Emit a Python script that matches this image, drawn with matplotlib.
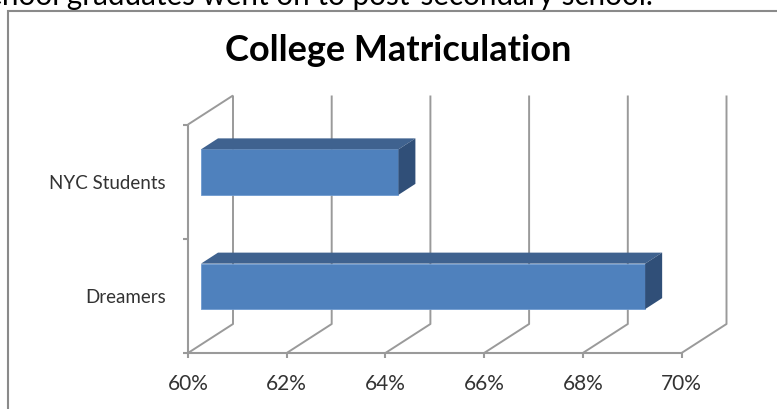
import matplotlib
matplotlib.use('Agg')
import matplotlib.pyplot as plt
from matplotlib.patches import Polygon, Rectangle

W, H = 777, 409

categories = ['Dreamers', 'NYC Students']
values = [69, 64]
xticks = [60, 62, 64, 66, 68, 70]
xticklabels = ['60%', '62%', '64%', '66%', '68%', '70%']

plt.rcParams['font.family'] = ['Lato', 'DejaVu Sans']

fig = plt.figure(figsize=(W / 100, H / 100), dpi=100, facecolor='white')

# chart frame and the cut off line of text above it
fig.add_artist(Rectangle((8 / W, -0.1), 900 / W, 1 + 0.1 - 11 / H, transform=fig.transFigure,
                         fill=False, edgecolor='#8a8a8a', linewidth=1.5))
fig.text(-25 / W, 1 - 5 / H, 'school graduates went on to post-secondary school.', fontsize=21.3,
         color='black', ha='left', va='baseline')
fig.text(398 / W, 1 - 50.5 / H, 'College Matriculation', fontsize=26, fontweight='bold',
         color='black', ha='center', va='center')

# front plane of the chart
ax = fig.add_axes([188 / W, 1 - 353 / H, (681.5 - 188) / W, (353 - 124.5) / H])
ax.set_xlim(60, 70)
ax.set_ylim(0, 2)
ax.axis('off')

# pixels to data units
px = 10 / (681.5 - 188)
py = 2 / (353 - 124.5)
depth_x, depth_y = 45 * px, 29 * py
wall = '#9a9a9a'

def line(xs, ys, lw=1.5):
    ax.plot(xs, ys, color=wall, linewidth=lw, clip_on=False, solid_capstyle='butt')

# gridlines on the back wall and floor
for t in xticks:
    line([t, t + depth_x, t + depth_x], [0, depth_y, 2 + depth_y], 1.4)
    line([t, t], [0, -5 * py])
line([60, 60 + depth_x], [2, 2 + depth_y], 1.4)

# front axes
line([60, 60], [0, 2])
line([60, 70], [0, 0])
for y in [0, 1, 2]:
    line([60 - 5 * px, 60], [y, y])

# 3d bars
gap_x = 13 * px
lift = 9.5 * py
bar_h = 45.5 * py
bar_dx, bar_dy = 17 * px, 11 * py
for i, v in enumerate(values):
    x0 = 60 + gap_x
    x1 = v + gap_x
    y0 = i + 0.5 - bar_h / 2 + lift
    y1 = y0 + bar_h
    ax.add_patch(Rectangle((x0, y0), x1 - x0, bar_h, facecolor='#4f81bd',
                           edgecolor='#6f9bd0', linewidth=0.6, clip_on=False, zorder=4))
    ax.add_patch(Polygon([(x0, y1), (x0 + bar_dx, y1 + bar_dy), (x1 + bar_dx, y1 + bar_dy), (x1, y1)],
                         facecolor='#3f628f', edgecolor='none', clip_on=False, zorder=4))
    ax.add_patch(Polygon([(x1, y0), (x1 + bar_dx, y0 + bar_dy), (x1 + bar_dx, y1 + bar_dy), (x1, y1)],
                         facecolor='#304f78', edgecolor='none', clip_on=False, zorder=4))
    ax.text(60 - 22 * px, i + 0.5 - 1.5 * py, categories[i], fontsize=13.5, color='#333333',
            ha='right', va='center')

for t, lab in zip(xticks, xticklabels):
    ax.text(t, -31 * py, lab, fontsize=15, color='#333333', ha='center', va='center')

fig.savefig('out.png', dpi=100)
